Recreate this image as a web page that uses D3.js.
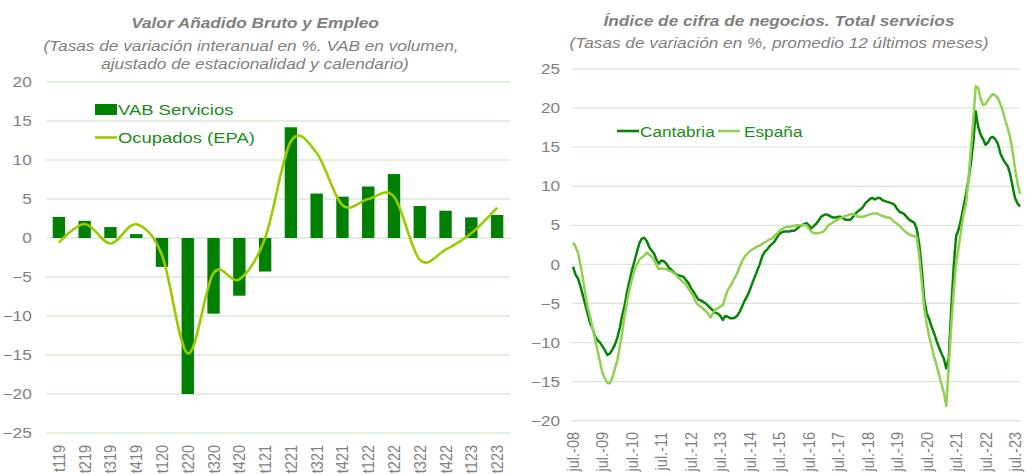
<!DOCTYPE html>
<html>
<head>
<meta charset="utf-8">
<script src="https://cdn.jsdelivr.net/npm/d3@7"></script>
<style>
  html, body { margin: 0; padding: 0; background: #fff; }
  svg { display: block; font-family: "Liberation Sans", Arial, sans-serif; }
</style>
</head>
<body>
<svg id="chart" width="1025" height="475"></svg>
<script>
// ---------- Left chart data ----------
const quarters = ["t119","t219","t319","t419","t120","t220","t320","t420","t121","t221","t321","t421","t122","t222","t322","t422","t123","t223"];
const vabServicios = [2.7, 2.2, 1.4, 0.5, -3.7, -20.0, -9.7, -7.4, -4.3, 14.2, 5.7, 5.3, 6.6, 8.2, 4.1, 3.5, 2.65, 2.95];
const ocupadosEPA = [-0.6, 1.8, -0.7, 1.75, -2.2, -14.8, -4.5, -5.3, 0.0, 12.4, 10.9, 4.2, 5.0, 5.3, -2.8, -1.5, 0.6, 3.9];
const leftTicks = [-25, -20, -15, -10, -5, 0, 5, 10, 15, 20];

// ---------- Right chart data (monthly, from jul. 2008) ----------
const startYear = 2008, startMonth = 6; // July 2008
const cantabria = [
 -0.3,-1.3,-1.8,-2.8,-4.0,-5.2,-6.4,-7.6,-8.2,-9.2,-9.7,-10.0,
 -10.5,-11.0,-11.6,-11.4,-10.9,-10.3,-9.4,-8.1,-6.6,-5.3,-3.6,-2.1,
 -0.8,0.4,1.6,2.7,3.3,3.4,3.0,2.2,1.8,1.4,0.6,0.1,
 0.5,0.4,0.1,-0.4,-0.7,-1.0,-1.3,-1.4,-1.5,-1.6,-2.0,-2.4,
 -3.0,-3.5,-4.0,-4.5,-4.6,-4.8,-5.0,-5.3,-5.6,-5.9,-6.2,-6.3,
 -6.6,-7.1,-6.6,-6.7,-6.9,-6.9,-6.8,-6.5,-6.0,-5.3,-4.6,-4.0,
 -3.3,-2.4,-1.6,-0.8,0.0,1.0,1.6,1.9,2.3,2.6,2.9,3.4,
 3.9,4.1,4.2,4.2,4.2,4.3,4.3,4.5,4.8,5.0,5.1,5.3,
 5.0,4.6,4.9,5.2,5.6,6.1,6.3,6.4,6.3,6.1,6.0,6.0,
 6.1,6.1,5.9,5.7,5.7,5.7,6.1,6.5,6.8,7.0,7.3,7.8,
 8.1,8.4,8.5,8.3,8.5,8.5,8.2,8.1,8.0,7.9,7.8,7.6,
 7.1,6.7,6.6,6.4,6.0,5.7,5.5,5.3,4.5,2.5,-0.5,-4.5,
 -6.2,-7.0,-8.0,-8.8,-9.8,-10.6,-11.4,-12.1,-13.3,-12.0,-5.8,-0.3,
 3.6,4.5,5.8,7.4,9.0,10.8,13.0,15.8,19.6,17.6,16.6,16.0,
 15.3,15.6,16.2,16.3,16.0,15.4,14.2,13.5,13.0,12.6,11.6,10.0,
 8.5,7.8,7.4
];
const espana = [
 2.8,2.3,1.5,0.0,-1.8,-3.8,-5.6,-6.8,-8.2,-9.5,-11.0,-12.5,
 -13.9,-14.6,-15.2,-15.2,-14.5,-13.4,-12.3,-10.5,-8.8,-6.6,-4.8,-3.2,
 -1.9,-0.8,0.0,0.6,0.9,1.1,1.5,1.2,1.0,0.6,-0.1,-0.6,
 -0.5,-0.6,-0.6,-0.8,-0.9,-1.1,-1.4,-1.7,-2.0,-2.3,-2.6,-3.1,
 -3.6,-4.1,-4.8,-5.2,-5.4,-5.7,-6.0,-6.3,-6.8,-6.2,-5.8,-5.6,
 -5.4,-5.2,-4.2,-3.3,-2.8,-2.2,-1.6,-1.0,-0.2,0.5,1.0,1.4,
 1.7,1.9,2.1,2.3,2.4,2.6,2.8,3.0,3.2,3.3,3.6,3.9,
 4.3,4.5,4.7,4.8,4.8,4.9,4.9,5.0,5.0,5.0,5.0,5.0,
 4.6,4.2,4.0,4.0,4.0,4.1,4.2,4.6,5.0,5.2,5.4,5.6,
 5.8,5.9,6.1,6.2,6.3,6.4,6.4,6.3,6.1,6.1,6.1,6.2,
 6.3,6.4,6.5,6.5,6.5,6.3,6.2,6.1,6.0,6.0,5.7,5.4,
 5.2,4.9,4.6,4.3,4.0,3.8,3.7,3.6,3.5,1.0,-2.2,-5.5,
 -7.6,-9.2,-10.5,-11.8,-12.9,-14.1,-15.3,-16.5,-18.1,-13.0,-8.0,-3.5,
 0.0,2.2,4.3,6.4,7.8,10.8,14.8,18.8,22.8,22.6,21.2,20.4,
 20.5,21.0,21.5,21.8,21.6,21.3,20.5,19.6,18.5,17.4,16.3,14.5,
 12.3,10.4,9.0
];
const rightTicks = [-20, -15, -10, -5, 0, 5, 10, 15, 20, 25];
const yearTicks = [2008,2009,2010,2011,2012,2013,2014,2015,2016,2017,2018,2019,2020,2021,2022,2023];

// ---------- Styles ----------
const SX = 1.19;             // horizontal stretch of the original text
const grey = "#7f7f7f";
const gridColor = "#d9e8d5";
const legendText = "#1a8c1a";
const barColor = "#008000";
const ocupColor = "#99cc00";
const cantColor = "#078407";
const espColor = "#92d050";

const svg = d3.select("#chart");

function stretchedText(g, x, y, str, opts) {
  const t = g.append("text")
    .attr("transform", `translate(${x},${y}) scale(${SX},1)`)
    .attr("text-anchor", opts.anchor || "start")
    .attr("font-size", opts.size)
    .attr("fill", opts.fill)
    .text(str);
  if (opts.weight) t.attr("font-weight", opts.weight);
  if (opts.italic) t.attr("font-style", "italic");
  return t;
}

// ================= LEFT CHART =================
const L = { x0: 46, x1: 510, yTop: 82, yBot: 433 };
const xL = d3.scaleBand().domain(quarters).range([L.x0, L.x1]).paddingInner(0.52).paddingOuter(0.26);
const yL = d3.scaleLinear().domain([-25, 20]).range([L.yBot, L.yTop]);
const gL = svg.append("g");

gL.append("g").selectAll("line").data(leftTicks).join("line")
  .attr("x1", L.x0).attr("x2", L.x1)
  .attr("y1", d => yL(d)).attr("y2", d => yL(d))
  .attr("stroke", gridColor).attr("stroke-width", 1.3);

const axL = gL.append("g").attr("transform", `translate(${L.x0},0)`)
  .call(d3.axisLeft(yL).tickValues(leftTicks).tickSize(0).tickPadding(12));
axL.select(".domain").remove();
axL.selectAll("text").attr("font-size", 14.5).attr("fill", grey)
  .attr("font-family", "Liberation Sans, Arial, sans-serif")
  .attr("transform", `scale(${SX},1)`);

gL.append("g").selectAll("rect").data(quarters).join("rect")
  .attr("x", d => xL(d))
  .attr("width", xL.bandwidth())
  .attr("y", (d, i) => yL(Math.max(0, vabServicios[i])))
  .attr("height", (d, i) => Math.abs(yL(vabServicios[i]) - yL(0)))
  .attr("fill", barColor);

const ocLine = d3.line()
  .x((d, i) => xL(quarters[i]) + xL.bandwidth() / 2)
  .y(d => yL(d))
  .curve(d3.curveCatmullRom.alpha(0));
gL.append("path").datum(ocupadosEPA).attr("d", ocLine)
  .attr("fill", "none").attr("stroke", ocupColor).attr("stroke-width", 2.6);

quarters.forEach(q => {
  gL.append("text")
    .attr("transform", `translate(${xL(q) + xL.bandwidth() / 2},445) scale(${SX},1) rotate(-90)`)
    .attr("text-anchor", "end").attr("dy", "0.35em")
    .attr("font-size", 14.5).attr("fill", grey).text(q);
});

// legend
gL.append("rect").attr("x", 95).attr("y", 104).attr("width", 22).attr("height", 11).attr("fill", barColor);
stretchedText(gL, 118, 115, "VAB Servicios", { size: 15.5, fill: legendText });
gL.append("line").attr("x1", 95).attr("x2", 117).attr("y1", 137.5).attr("y2", 137.5)
  .attr("stroke", ocupColor).attr("stroke-width", 2.6);
stretchedText(gL, 118, 143, "Ocupados (EPA)", { size: 15.5, fill: legendText });

// titles
stretchedText(gL, 255, 28, "Valor Añadido Bruto y Empleo", { size: 14.5, fill: grey, weight: "bold", italic: true, anchor: "middle" });
stretchedText(gL, 251, 51, "(Tasas de variación interanual en %. VAB en volumen,", { size: 14.5, fill: grey, italic: true, anchor: "middle" });
stretchedText(gL, 255, 69, "ajustado de estacionalidad y calendario)", { size: 14.5, fill: grey, italic: true, anchor: "middle" });

// ================= RIGHT CHART =================
const R = { x0: 572, x1: 1020, yTop: 69, yBot: 420.7 };
const xR = d3.scaleTime()
  .domain([new Date(2008, 6, 1), new Date(2023, 6, 1)])
  .range([573, 1015]);
const yR = d3.scaleLinear().domain([-20, 25]).range([R.yBot, R.yTop]);
const gR = svg.append("g");

gR.append("g").selectAll("line").data(rightTicks).join("line")
  .attr("x1", R.x0).attr("x2", R.x1)
  .attr("y1", d => yR(d)).attr("y2", d => yR(d))
  .attr("stroke", gridColor).attr("stroke-width", 1.3);

const axR = gR.append("g").attr("transform", `translate(${R.x0},0)`)
  .call(d3.axisLeft(yR).tickValues(rightTicks).tickSize(0).tickPadding(10));
axR.select(".domain").remove();
axR.selectAll("text").attr("font-size", 14.5).attr("fill", grey)
  .attr("font-family", "Liberation Sans, Arial, sans-serif")
  .attr("transform", `scale(${SX},1)`);

const monthDate = i => new Date(startYear, startMonth + i, 1);
const lineR = d3.line().x((d, i) => xR(monthDate(i))).y(d => yR(d)).curve(d3.curveLinear);
gR.append("path").datum(cantabria).attr("d", lineR)
  .attr("fill", "none").attr("stroke", cantColor).attr("stroke-width", 2.5).attr("stroke-linejoin", "round");
gR.append("path").datum(espana).attr("d", lineR)
  .attr("fill", "none").attr("stroke", espColor).attr("stroke-width", 2.5).attr("stroke-linejoin", "round");

const fmtYY = d3.timeFormat("%y");
yearTicks.forEach(yv => {
  const dt = new Date(yv, 6, 1);
  gR.append("text")
    .attr("transform", `translate(${xR(dt)},432) scale(${SX},1) rotate(-90)`)
    .attr("text-anchor", "end").attr("dy", "0.35em")
    .attr("font-size", 14.5).attr("fill", grey).text("jul.-" + fmtYY(dt));
});

// legend
gR.append("line").attr("x1", 617).attr("x2", 639).attr("y1", 131).attr("y2", 131)
  .attr("stroke", cantColor).attr("stroke-width", 2.6);
stretchedText(gR, 640, 137, "Cantabria", { size: 14.5, fill: legendText });
gR.append("line").attr("x1", 718).attr("x2", 740).attr("y1", 131).attr("y2", 131)
  .attr("stroke", espColor).attr("stroke-width", 2.6);
stretchedText(gR, 744, 137, "España", { size: 14.5, fill: legendText });

// titles
stretchedText(gR, 779, 26, "Índice de cifra de negocios. Total servicios", { size: 14.5, fill: grey, weight: "bold", italic: true, anchor: "middle" });
stretchedText(gR, 779, 48, "(Tasas de variación en %, promedio 12 últimos meses)", { size: 14.5, fill: grey, italic: true, anchor: "middle" });
</script>
</body>
</html>
